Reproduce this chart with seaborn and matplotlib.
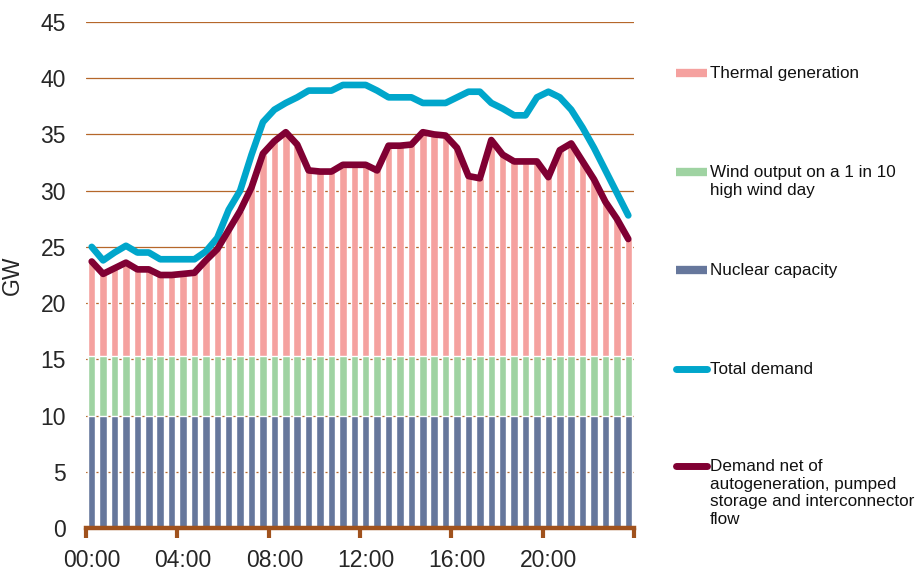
import matplotlib
matplotlib.use("Agg")
import matplotlib.pyplot as plt
from matplotlib.lines import Line2D
import seaborn as sns
import numpy as np
import pandas as pd

# ---- data (GW, half-hourly) ----
times = [f"{h:02d}:{m:02d}" for h in range(24) for m in (0, 30)]
tick_labels = ["00:00", "04:00", "08:00", "12:00", "16:00", "20:00"]

total_demand = [25.0, 23.8, 24.5, 25.1, 24.5, 24.5, 23.9, 23.9, 23.9, 23.9,
                24.6, 25.8, 28.3, 30.0, 33.2, 36.1, 37.2, 37.8, 38.3, 38.9,
                38.9, 38.9, 39.4, 39.4, 39.4, 38.9, 38.3, 38.3, 38.3, 37.8,
                37.8, 37.8, 38.3, 38.8, 38.8, 37.8, 37.3, 36.7, 36.7, 38.3,
                38.8, 38.3, 37.2, 35.6, 33.8, 31.8, 29.8, 27.8]

net_demand = [23.7, 22.6, 23.1, 23.6, 23.0, 23.0, 22.5, 22.5, 22.6, 22.7,
              23.8, 24.8, 26.5, 28.2, 30.3, 33.3, 34.4, 35.2, 34.1, 31.8,
              31.7, 31.7, 32.3, 32.3, 32.3, 31.8, 34.0, 34.0, 34.1, 35.2,
              35.0, 34.9, 33.8, 31.3, 31.1, 34.5, 33.2, 32.6, 32.6, 32.6,
              31.2, 33.6, 34.2, 32.6, 31.0, 29.0, 27.5, 25.7]

nuclear = [10.0] * 48
wind = [5.3] * 48
thermal = [n - 15.3 for n in net_demand]

df = pd.DataFrame({
    "time": times,
    "nuclear": nuclear,
    "wind": wind,
    "thermal": thermal,
    "total": total_demand,
    "net": net_demand,
})
df["idx"] = np.arange(len(df))
df["top_wind"] = df["nuclear"] + df["wind"]
df["top_thermal"] = df["top_wind"] + df["thermal"]

c_thermal = "#F5A19F"
c_wind = "#9FD3A2"
c_nuclear = "#66779C"
c_total = "#00A6CB"
c_net = "#800033"
c_grid = "#B5672A"
c_axis = "#A0521D"

sns.set_theme(style="white")
plt.rcParams["font.family"] = ["Liberation Sans", "DejaVu Sans"]

fig = plt.figure(figsize=(9.2, 5.74), dpi=100)
ax = fig.add_axes([86 / 920, 1 - 528 / 574, (634 - 86) / 920, (528 - 22) / 574])

bw = 0.66
sns.barplot(data=df, x="time", y="top_thermal", order=times, color=c_thermal,
            saturation=1, width=bw, ax=ax, zorder=2)
sns.barplot(data=df, x="time", y="top_wind", order=times, color=c_wind,
            saturation=1, width=bw, ax=ax, zorder=2)
sns.barplot(data=df, x="time", y="nuclear", order=times, color=c_nuclear,
            saturation=1, width=bw, ax=ax, zorder=2)

sns.lineplot(data=df, x="idx", y="total", color=c_total, linewidth=4.8, ax=ax,
             zorder=4, solid_capstyle="round", solid_joinstyle="round")
sns.lineplot(data=df, x="idx", y="net", color=c_net, linewidth=4.8, ax=ax,
             zorder=5, solid_capstyle="round", solid_joinstyle="round")

ax.set_xlim(-0.5, 47.5)
ax.set_ylim(0, 45)
ax.set_yticks(np.arange(0, 46, 5))
ax.yaxis.grid(True, color=c_grid, linewidth=0.9, zorder=1)
ax.set_axisbelow(True)
for s in ["left", "right", "top"]:
    ax.spines[s].set_visible(False)
ax.spines["bottom"].set_color(c_axis)
ax.spines["bottom"].set_linewidth(3.2)
ax.spines["bottom"].set_zorder(6)

# category labels every 8 half-hours, tick marks at category boundaries
ax.set_xticks([i for i in range(0, 48, 8)])
ax.set_xticklabels(tick_labels, fontsize=16.5)
ax.tick_params(axis="x", which="major", bottom=False, length=0, pad=15)
ax.set_xticks([b - 0.5 for b in range(0, 49, 8)], minor=True)
ax.tick_params(axis="x", which="minor", bottom=True, length=7, width=3,
               color=c_axis, direction="out")
ax.tick_params(axis="y", length=0, labelsize=16.5, pad=14.5)
ax.set_xlabel("")
ax.set_ylabel("GW", fontsize=16.5)
ax.yaxis.set_label_coords((24 - 86) / 548, 0.5)

# legend
entries = [
    ("patch", c_thermal, 73, "Thermal generation"),
    ("patch", c_wind, 172, "Wind output on a 1 in 10\nhigh wind day"),
    ("patch", c_nuclear, 270, "Nuclear capacity"),
    ("line", c_total, 369, "Total demand"),
    ("line", c_net, 466, "Demand net of\nautogeneration, pumped\nstorage and interconnector\nflow"),
]
for kind, col, ypix, lab in entries:
    yf = 1 - ypix / 574
    if kind == "patch":
        fig.add_artist(Line2D([676 / 920, 707 / 920], [yf, yf], color=col,
                              linewidth=6, solid_capstyle="butt"))
    else:
        fig.add_artist(Line2D([676 / 920, 707 / 920], [yf, yf], color=col,
                              linewidth=5, solid_capstyle="round"))
    fig.text(710 / 920, yf + 7 / 574, lab, fontsize=12.3, va="top", ha="left",
             color="#111111", linespacing=1.22)

fig.savefig("out.png", dpi=100)
